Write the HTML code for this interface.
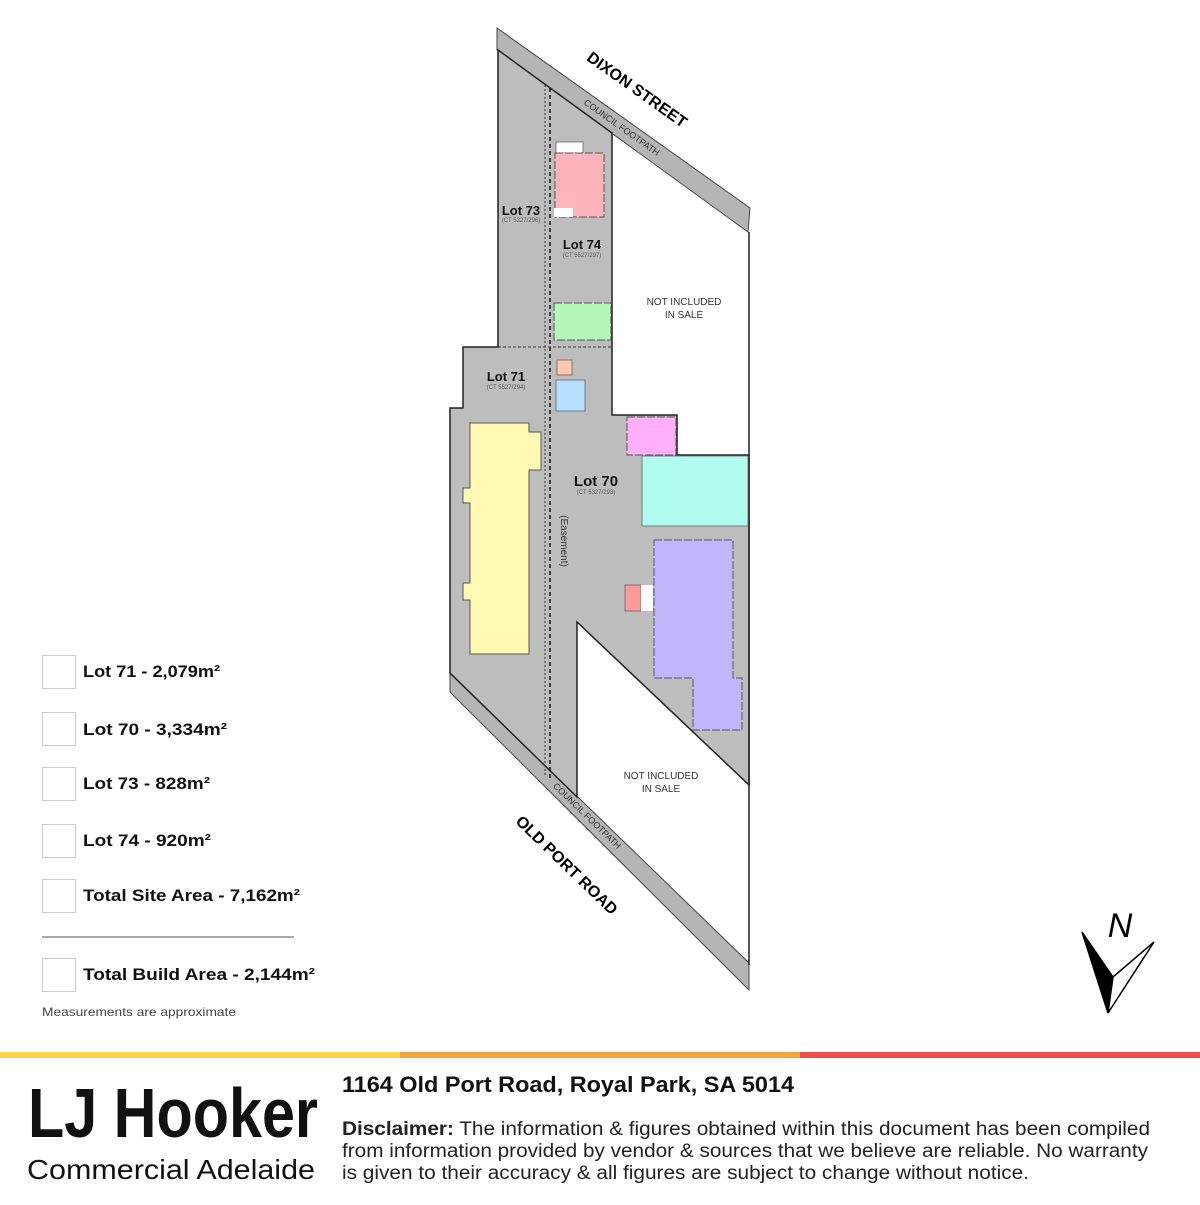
<!DOCTYPE html>
<html><head><meta charset="utf-8"><style>
body{margin:0;width:1200px;height:1200px;background:#fff;overflow:hidden;font-family:"Liberation Sans",sans-serif}
</style></head><body>
<svg width="1200" height="1200" viewBox="0 0 1200 1200" xmlns="http://www.w3.org/2000/svg" font-family="Liberation Sans, sans-serif">
<polygon points="497,28 750,208 748,232 497,50" fill="#b5b5b5" stroke="#444" stroke-width="1"/>
<polygon points="450,673 749,963 749,990 450,692" fill="#b5b5b5" stroke="#444" stroke-width="1"/>
<polygon points="498,50 612,133 612,415 677,415 677,455 749,455 749,785 577,622 577,797 450,673 450,408 463,408 463,347 498,347" fill="#bdbdbd" stroke="#222" stroke-width="1.5"/>
<line x1="749" y1="232" x2="749" y2="965" stroke="#222" stroke-width="1.5"/>
<line x1="545" y1="85" x2="545" y2="777" stroke="#333" stroke-width="1" stroke-dasharray="2,2"/>
<line x1="550" y1="88" x2="550" y2="780" stroke="#111" stroke-width="1.5" stroke-dasharray="4,3"/>
<line x1="498" y1="347" x2="612" y2="347" stroke="#333" stroke-width="1" stroke-dasharray="3,2"/>
<rect x="556" y="142" width="27" height="11" fill="#fff" stroke="#666" stroke-width=".8"/>
<rect x="555" y="153" width="49" height="64" fill="#ffb3bb" stroke="#555" stroke-width="1" stroke-dasharray="8,2"/>
<rect x="554" y="208" width="19" height="9" fill="#fff"/>
<rect x="554" y="303" width="57" height="37" fill="#b4f8b8" stroke="#555" stroke-width="1" stroke-dasharray="8,2"/>
<rect x="557" y="360" width="15" height="15" fill="#ffc8a8" stroke="#666" stroke-width=".8"/>
<rect x="556" y="380" width="29" height="31" fill="#b7dfff" stroke="#666" stroke-width=".8"/>
<rect x="627" y="417" width="49" height="38" fill="#ffb0f8" stroke="#555" stroke-width="1" stroke-dasharray="8,2"/>
<rect x="642" y="456" width="106" height="70" fill="#b0fdf0" stroke="#666" stroke-width=".8"/>
<polygon points="470,423 529,423 529,432 541,432 541,470 529,470 529,654 470,654 470,600 463,600 463,583 470,583 470,503 463,503 463,488 470,488" fill="#fff9b3" stroke="#555" stroke-width="1"/>
<polygon points="654,540 733,540 733,678 742,678 742,730 693,730 693,678 654,678" fill="#c1b5fc" stroke="#555" stroke-width="1" stroke-dasharray="8,2"/>
<rect x="625" y="585" width="16" height="26" fill="#ff9a9a" stroke="#666" stroke-width=".8"/>
<rect x="641" y="585" width="12" height="26" fill="#fff"/>
<g font-weight="bold" fill="#111" text-anchor="middle">
<text x="521" y="215" font-size="13">Lot 73</text>
<text x="582" y="249" font-size="13">Lot 74</text>
<text x="506" y="381" font-size="13">Lot 71</text>
<text x="596" y="486" font-size="15">Lot 70</text>
</g>
<g font-size="6" fill="#555" text-anchor="middle">
<text x="521" y="222">(CT 5327/296)</text>
<text x="582" y="257">(CT 5527/297)</text>
<text x="506" y="389">(CT 5527/294)</text>
<text x="596" y="494">(CT 5327/293)</text>
</g>
<text x="561" y="541" font-size="10" fill="#333" text-anchor="middle" transform="rotate(90 561 541)">(Easement)</text>
<g font-size="10" fill="#333" text-anchor="middle">
<text x="684" y="305">NOT INCLUDED</text><text x="684" y="318">IN SALE</text>
<text x="661" y="779">NOT INCLUDED</text><text x="661" y="792">IN SALE</text>
</g>
<text x="634" y="94" font-size="16" font-weight="bold" text-anchor="middle" transform="rotate(35.4 634 94)">DIXON STREET</text>
<text x="620" y="130" font-size="9" fill="#333" text-anchor="middle" transform="rotate(35.4 620 130)">COUNCIL FOOTPATH</text>
<text x="563" y="869" font-size="16" font-weight="bold" text-anchor="middle" transform="rotate(44 563 869)">OLD PORT ROAD</text>
<text x="585" y="818" font-size="9" fill="#333" text-anchor="middle" transform="rotate(44 585 818)">COUNCIL FOOTPATH</text>
<text x="1120" y="937" font-size="34" font-style="italic" text-anchor="middle">N</text>
<polygon points="1082,932 1113,977 1108,1013" fill="#000" stroke="#000" stroke-width="1.5"/>
<polygon points="1113,977 1154,942 1108,1013" fill="#fff" stroke="#000" stroke-width="1.5"/>
<g fill="#fff" stroke="#ccc" stroke-width="1">
<rect x="42.5" y="655.5" width="33" height="33"/>
<rect x="42.5" y="712.5" width="33" height="33"/>
<rect x="42.5" y="767.5" width="33" height="33"/>
<rect x="42.5" y="824.5" width="33" height="33"/>
<rect x="42.5" y="879.5" width="33" height="33"/>
<rect x="42.5" y="958.5" width="33" height="33"/>
</g>
<g font-size="17" font-weight="bold" fill="#111">
<text x="83" y="677" textLength="137" lengthAdjust="spacingAndGlyphs">Lot 71 - 2,079m²</text>
<text x="83" y="735" textLength="144" lengthAdjust="spacingAndGlyphs">Lot 70 - 3,334m²</text>
<text x="83" y="789" textLength="127" lengthAdjust="spacingAndGlyphs">Lot 73 - 828m²</text>
<text x="83" y="846" textLength="128" lengthAdjust="spacingAndGlyphs">Lot 74 - 920m²</text>
<text x="83" y="901" textLength="217" lengthAdjust="spacingAndGlyphs">Total Site Area - 7,162m²</text>
<text x="83" y="980" textLength="232" lengthAdjust="spacingAndGlyphs">Total Build Area - 2,144m²</text>
</g>
<line x1="42" y1="937" x2="294" y2="937" stroke="#555" stroke-width="1"/>
<text x="42" y="1016" font-size="12" fill="#444" textLength="194" lengthAdjust="spacingAndGlyphs">Measurements are approximate</text>
<rect x="0" y="1052" width="400" height="6" fill="#ffd34a"/>
<rect x="400" y="1052" width="400" height="6" fill="#f7a445"/>
<rect x="800" y="1052" width="400" height="6" fill="#ef4d50"/>
<text x="28" y="1137" font-size="70" font-weight="bold" fill="#111" textLength="290" lengthAdjust="spacingAndGlyphs">LJ Hooker</text>
<text x="27" y="1179" font-size="28" fill="#111" textLength="288" lengthAdjust="spacingAndGlyphs">Commercial Adelaide</text>
<text x="342" y="1092" font-size="22" font-weight="bold" fill="#111" textLength="452" lengthAdjust="spacingAndGlyphs">1164 Old Port Road, Royal Park, SA 5014</text>
<g font-size="19" fill="#222">
<text x="342" y="1135" textLength="808" lengthAdjust="spacingAndGlyphs"><tspan font-weight="bold">Disclaimer:</tspan> The information &amp; figures obtained within this document has been compiled</text>
<text x="342" y="1157" textLength="806" lengthAdjust="spacingAndGlyphs">from information provided by vendor &amp; sources that we believe are reliable. No warranty</text>
<text x="342" y="1179" textLength="687" lengthAdjust="spacingAndGlyphs">is given to their accuracy &amp; all figures are subject to change without notice.</text>
</g>
</svg>
</body></html>
